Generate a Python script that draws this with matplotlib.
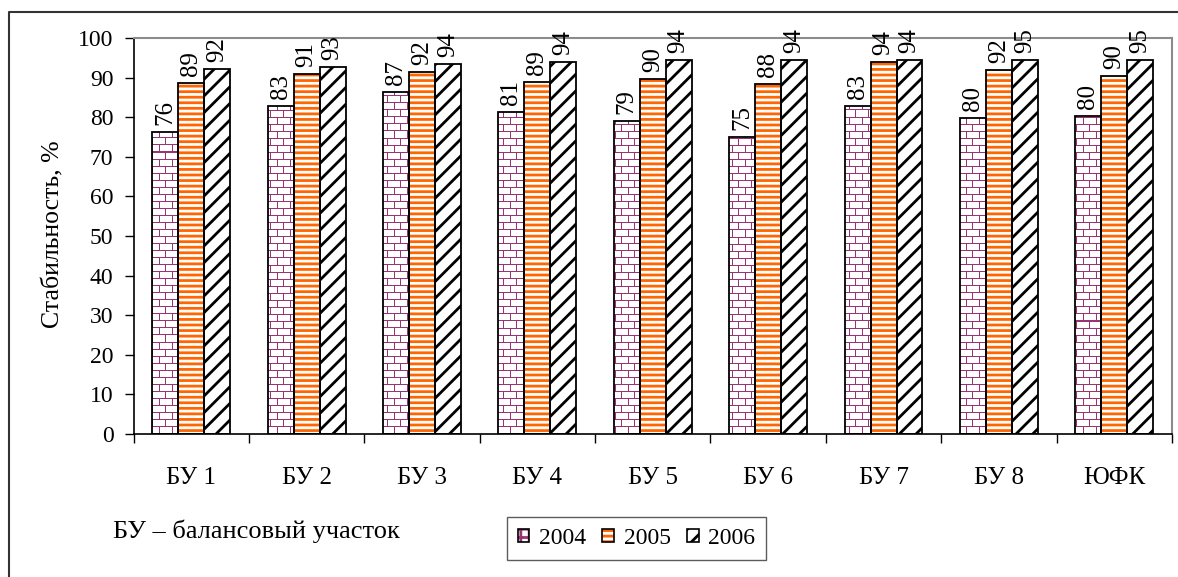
import numpy as np
import matplotlib
matplotlib.use("Agg")
import matplotlib.pyplot as plt
from matplotlib.patches import Patch
from matplotlib.lines import Line2D
from matplotlib.legend_handler import HandlerTuple

plt.rcParams['font.family'] = ['Liberation Serif', 'DejaVu Serif']
plt.rcParams['hatch.linewidth'] = 2.0

categories = ["БУ 1", "БУ 2", "БУ 3", "БУ 4", "БУ 5", "БУ 6", "БУ 7", "БУ 8", "ЮФК"]
years = ["2004", "2005", "2006"]
vals_2004 = [76.3, 82.8, 86.4, 81.4, 79.0, 75.0, 82.9, 79.9, 80.4]
vals_2005 = [88.6, 90.9, 91.4, 89.0, 89.6, 88.4, 93.9, 91.9, 90.4]
vals_2006 = [92.3, 92.6, 93.5, 93.9, 94.4, 94.4, 94.4, 94.5, 94.5]
labels_2004 = [76, 83, 87, 81, 79, 75, 83, 80, 80]
labels_2005 = [89, 91, 92, 89, 90, 88, 94, 92, 90]
labels_2006 = [92, 93, 94, 94, 94, 94, 94, 95, 95]
y_ticks = [0, 10, 20, 30, 40, 50, 60, 70, 80, 90, 100]

W, H = 1178, 577
fig = plt.figure(figsize=(W / 100, H / 100), dpi=100)
ax_l, ax_b, ax_w, ax_h = 0.1134, 0.2478, 0.8815, 0.6863
ax = fig.add_axes([ax_l, ax_b, ax_w, ax_h])

brick_col = np.array([0.60, 0.20, 0.45])


def brick_texture(h, w, row=7, brick=13):
    img = np.ones((h, w, 3))
    for i, r0 in enumerate(range(0, h, row)):
        img[r0, :] = brick_col
        off = 0 if i % 2 == 0 else brick // 2
        for c in range(off, w, brick):
            img[r0:r0 + row, c] = brick_col
    return img


x = np.arange(len(categories))
bw = 0.225
tex = brick_texture(int(ax_h * H), int(ax_w * W))

# 2004 - brick texture clipped to bars
bars04 = ax.bar(x - bw, vals_2004, bw, facecolor='none', edgecolor='black', lw=1.3, zorder=3)
for b in bars04:
    im = ax.imshow(tex, extent=(-0.5, 8.5, 0, 100), aspect='auto', origin='lower',
                   interpolation='nearest', zorder=2)
    im.set_clip_path(b)

# 2005 - orange stripes
ax.bar(x, vals_2005, bw, facecolor='white', edgecolor='#FF6600', hatch='---', lw=0, zorder=2)
bars05 = ax.bar(x, vals_2005, bw, fill=False, edgecolor='black', lw=1.3, zorder=3)

# 2006 - black diagonals
ax.bar(x + bw, vals_2006, bw, facecolor='white', edgecolor='black', hatch='//', lw=0, zorder=2)
bars06 = ax.bar(x + bw, vals_2006, bw, fill=False, edgecolor='black', lw=1.3, zorder=3)

for bars, labs in [(bars04, labels_2004), (bars05, labels_2005), (bars06, labels_2006)]:
    for b, lab in zip(bars, labs):
        ax.annotate(str(lab), (b.get_x() + b.get_width() / 2, b.get_height()),
                    xytext=(0, 5), textcoords='offset points', rotation=90,
                    ha='center', va='bottom', fontsize=18, zorder=4,
                    annotation_clip=False)

ax.set_xlim(-0.5, 8.5)
ax.set_ylim(0, 100)
ax.set_yticks(y_ticks)
ax.tick_params(axis='y', direction='out', length=6.5, width=1, labelsize=17, pad=8)
ax.set_xticks(x)
ax.set_xticklabels(categories, fontsize=18)
ax.tick_params(axis='x', which='major', length=0, pad=24)
ax.set_xticks(np.arange(-0.5, 8.6, 1.0), minor=True)
ax.tick_params(axis='x', which='minor', direction='out', length=6.5, width=1)

for s in ['top', 'right']:
    ax.spines[s].set_color('#8c8c8c')
    ax.spines[s].set_linewidth(1.5)
for s in ['left', 'bottom']:
    ax.spines[s].set_color('black')
    ax.spines[s].set_linewidth(1.2)

fig.text(0.045, 0.594, "Стабильность, %", rotation=90, ha='center', va='center', fontsize=18.5)
fig.text(0.096, 0.0676, "БУ – балансовый участок", ha='left', va='baseline', fontsize=19)

handles = [
    (Patch(facecolor='white', edgecolor=brick_col, hatch='++', lw=0),
     Patch(fill=False, edgecolor='black', lw=1.2)),
    (Patch(facecolor='white', edgecolor='#FF6600', hatch='---', lw=0),
     Patch(fill=False, edgecolor='black', lw=1.2)),
    (Patch(facecolor='white', edgecolor='black', hatch='//', lw=0),
     Patch(fill=False, edgecolor='black', lw=1.2)),
]
leg = fig.legend(handles, years, loc='center', bbox_to_anchor=(0.5403, 0.0667), ncol=3,
                 fontsize=17, handlelength=0.5, handleheight=0.5, handletextpad=0.4,
                 columnspacing=0.7, borderpad=0.45, fancybox=False,
                 handler_map={tuple: HandlerTuple(ndivide=1, pad=0)})
leg.get_frame().set_edgecolor('#333333')
leg.get_frame().set_linewidth(1.0)

# outer frame (left and top)
fig.add_artist(Line2D([0.0076, 0.0076, 1.0], [0.0, 0.979, 0.979], transform=fig.transFigure,
                      color='#333333', lw=1.5))

fig.savefig("out.png", dpi=100)
